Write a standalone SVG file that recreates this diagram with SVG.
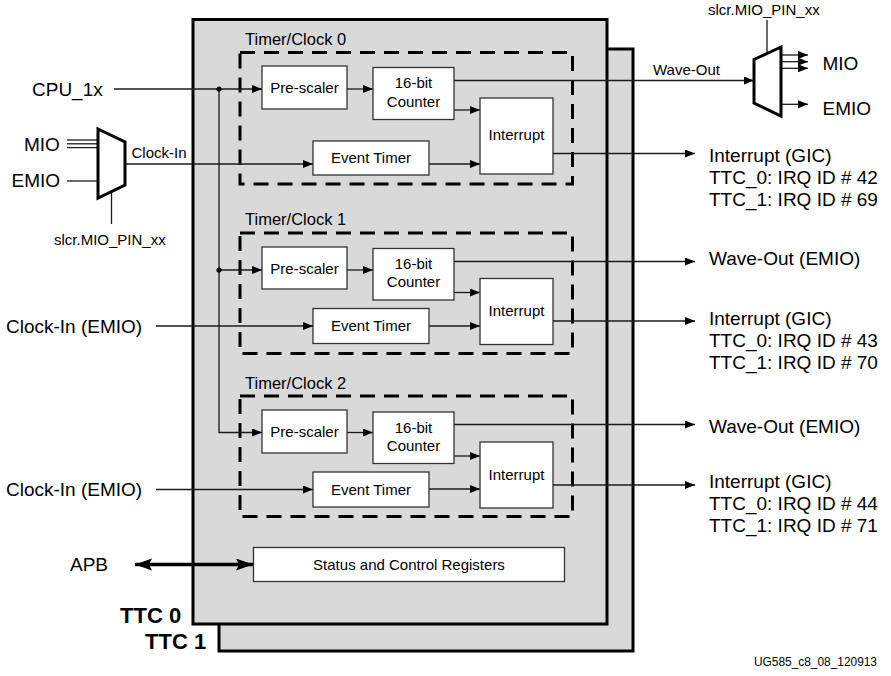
<svg xmlns="http://www.w3.org/2000/svg" width="891" height="676" viewBox="0 0 891 676">
<defs>
<style>
.bg{fill:#ffffff}
.ttc{fill:#d9d9d9;stroke:#000;stroke-width:3}
.dash{fill:none;stroke:#000;stroke-width:3;stroke-dasharray:15 9}
.box{fill:#fff;stroke:#333;stroke-width:1.3}
.ln{fill:none;stroke:#1a1a1a;stroke-width:1.3}
.arr{marker-end:url(#ah)}
.mux{fill:#fff;stroke:#000;stroke-width:3;stroke-linejoin:miter}
.t{font-family:"Liberation Sans",Arial,sans-serif;fill:#000}
.sm{font-size:15px}
.lg{font-size:19px}
.hd{font-size:16.5px}
.ctr{text-anchor:middle}
.bold{font-size:22px;font-weight:bold}
</style>
<marker id="ah" markerUnits="userSpaceOnUse" markerWidth="11" markerHeight="9" refX="10" refY="4" orient="auto">
<path d="M0,0 L10,4 L0,8 z" fill="#000"/>
</marker>
<marker id="bh" markerUnits="userSpaceOnUse" markerWidth="18" markerHeight="13" refX="17" refY="6" orient="auto-start-reverse">
<path d="M0,0 L17,6 L0,12 L3,6 z" fill="#000"/>
</marker>
</defs>
<rect class="bg" x="0" y="0" width="891" height="676"/>

<g id="ttc1">
<rect class="ttc" x="219" y="49" width="414" height="602"/>
</g>
<g id="ttc0">
<rect class="ttc" x="193" y="19.5" width="414" height="604.5"/>
</g>

<g id="timer0">
<text class="t hd" x="245" y="45">Timer/Clock 0</text>
<rect class="dash" x="240" y="52.5" width="332.5" height="131.5"/>
</g>
<g id="timer1">
<text class="t hd" x="245" y="225">Timer/Clock 1</text>
<rect class="dash" x="240" y="233" width="332.5" height="120.5"/>
</g>
<g id="timer2">
<text class="t hd" x="245" y="389">Timer/Clock 2</text>
<rect class="dash" x="240" y="396" width="332.5" height="120.5"/>
</g>

<g id="connectors">
<!-- CPU_1x distribution -->
<polyline class="ln arr" points="114,89 262,89"/>
<polyline class="ln arr" points="219,89 219,270 262,270"/>
<polyline class="ln arr" points="219,270 219,432.5 262,432.5"/>
<circle cx="219" cy="89" r="2.6" fill="#000"/>
<circle cx="219" cy="270" r="2.6" fill="#000"/>
<!-- TC0 -->
<line class="ln arr" x1="347" y1="89" x2="373" y2="89"/>
<line class="ln arr" x1="454" y1="110" x2="480" y2="110"/>
<line class="ln arr" x1="429" y1="164" x2="480" y2="164"/>
<line class="ln arr" x1="125" y1="164" x2="313" y2="164"/>
<line class="ln arr" x1="454" y1="80.5" x2="754" y2="80.5"/>
<line class="ln arr" x1="553" y1="153.5" x2="695" y2="153.5"/>
<!-- TC1 -->
<line class="ln arr" x1="347" y1="270" x2="373" y2="270"/>
<line class="ln arr" x1="454" y1="292.5" x2="480" y2="292.5"/>
<line class="ln arr" x1="429" y1="326" x2="480" y2="326"/>
<line class="ln arr" x1="156" y1="326" x2="313" y2="326"/>
<line class="ln arr" x1="454" y1="261.5" x2="695" y2="261.5"/>
<line class="ln arr" x1="553" y1="321" x2="695" y2="321"/>
<!-- TC2 -->
<line class="ln arr" x1="347" y1="432.5" x2="373" y2="432.5"/>
<line class="ln arr" x1="454" y1="456" x2="480" y2="456"/>
<line class="ln arr" x1="429" y1="489" x2="480" y2="489"/>
<line class="ln arr" x1="156" y1="489.5" x2="313" y2="489.5"/>
<line class="ln arr" x1="454" y1="424.5" x2="695" y2="424.5"/>
<line class="ln arr" x1="553" y1="485" x2="695" y2="485"/>
<!-- left mux inputs -->
<line class="ln" x1="67" y1="140" x2="98" y2="140"/>
<line class="ln" x1="67" y1="143.8" x2="98" y2="143.8"/>
<line class="ln" x1="67" y1="147.6" x2="98" y2="147.6"/>
<line class="ln" x1="67" y1="181" x2="98" y2="181"/>
<line class="ln" x1="111.5" y1="192" x2="111.5" y2="224"/>
<!-- right mux outputs -->
<line class="ln" x1="767" y1="20" x2="767" y2="53"/>
<line class="ln arr" x1="781" y1="55" x2="808" y2="55"/>
<line class="ln arr" x1="781" y1="61.7" x2="808" y2="61.7"/>
<line class="ln arr" x1="781" y1="68.3" x2="808" y2="68.3"/>
<line class="ln arr" x1="781" y1="104.3" x2="808" y2="104.3"/>
<!-- APB -->
<line x1="135" y1="564.5" x2="253" y2="564.5" stroke="#000" stroke-width="3.5" marker-start="url(#bh)" marker-end="url(#bh)"/>
</g>

<g id="mux-in">
<polygon class="mux" points="98,129 125,142 125,185 98,198"/>
</g>
<g id="mux-out">
<polygon class="mux" points="754,59.5 781,47 781,116 754,103"/>
</g>

<g id="pre0"><rect class="box" x="262" y="66" width="85" height="43"/><text class="t sm ctr" x="304.5" y="92.8">Pre-scaler</text></g>
<g id="cnt0"><rect class="box" x="373" y="67.5" width="81" height="52"/><text class="t sm ctr" x="413.5" y="88.3">16-bit</text><text class="t sm ctr" x="413.5" y="106.5">Counter</text></g>
<g id="int0"><rect class="box" x="480" y="98" width="73" height="76"/><text class="t sm ctr" x="516.5" y="140">Interrupt</text></g>
<g id="evt0"><rect class="box" x="313" y="141" width="116" height="34"/><text class="t sm ctr" x="371" y="163">Event Timer</text></g>

<g id="pre1"><rect class="box" x="262" y="247" width="85" height="42"/><text class="t sm ctr" x="304.5" y="273.5">Pre-scaler</text></g>
<g id="cnt1"><rect class="box" x="373" y="248.5" width="81" height="51.5"/><text class="t sm ctr" x="413.5" y="269.3">16-bit</text><text class="t sm ctr" x="413.5" y="287.3">Counter</text></g>
<g id="int1"><rect class="box" x="480" y="278.5" width="73" height="66"/><text class="t sm ctr" x="516.5" y="316">Interrupt</text></g>
<g id="evt1"><rect class="box" x="313" y="308.5" width="116" height="35"/><text class="t sm ctr" x="371" y="331">Event Timer</text></g>

<g id="pre2"><rect class="box" x="262" y="410" width="85" height="43"/><text class="t sm ctr" x="304.5" y="436.8">Pre-scaler</text></g>
<g id="cnt2"><rect class="box" x="373" y="412" width="81" height="51.5"/><text class="t sm ctr" x="413.5" y="432.7">16-bit</text><text class="t sm ctr" x="413.5" y="450.7">Counter</text></g>
<g id="int2"><rect class="box" x="480" y="442" width="73" height="66"/><text class="t sm ctr" x="516.5" y="480">Interrupt</text></g>
<g id="evt2"><rect class="box" x="313" y="472" width="116" height="35"/><text class="t sm ctr" x="371" y="494.5">Event Timer</text></g>

<g id="regs"><rect class="box" x="253.5" y="547.5" width="311" height="34"/><text class="t sm ctr" x="409" y="569.5">Status and Control Registers</text></g>

<g id="labels">
<text class="t lg" x="32" y="96">CPU_1x</text>
<text class="t lg" x="24" y="150.5">MIO</text>
<text class="t lg" x="11.5" y="187">EMIO</text>
<text class="t sm" x="131.5" y="157.5">Clock-In</text>
<text class="t sm" x="54" y="245">slcr.MIO_PIN_xx</text>
<text class="t lg" x="6" y="333">Clock-In (EMIO)</text>
<text class="t lg" x="6" y="496">Clock-In (EMIO)</text>
<text class="t lg" x="70" y="571">APB</text>
<text class="t bold" x="120" y="623">TTC 0</text>
<text class="t bold" x="145" y="649">TTC 1</text>
<text class="t sm" x="708" y="15">slcr.MIO_PIN_xx</text>
<text class="t sm" x="653" y="75">Wave-Out</text>
<text class="t lg" x="822.5" y="70">MIO</text>
<text class="t lg" x="822.5" y="114.5">EMIO</text>
<text class="t lg" x="709" y="162">Interrupt (GIC)</text>
<text class="t lg" x="709" y="184">TTC_0: IRQ ID # 42</text>
<text class="t lg" x="709" y="206">TTC_1: IRQ ID # 69</text>
<text class="t lg" x="709" y="264.5">Wave-Out (EMIO)</text>
<text class="t lg" x="709" y="325">Interrupt (GIC)</text>
<text class="t lg" x="709" y="347">TTC_0: IRQ ID # 43</text>
<text class="t lg" x="709" y="369">TTC_1: IRQ ID # 70</text>
<text class="t lg" x="709" y="432.5">Wave-Out (EMIO)</text>
<text class="t lg" x="709" y="488">Interrupt (GIC)</text>
<text class="t lg" x="709" y="510">TTC_0: IRQ ID # 44</text>
<text class="t lg" x="709" y="532">TTC_1: IRQ ID # 71</text>
<text class="t" font-size="11.9" x="754" y="666">UG585_c8_08_120913</text>
</g>
</svg>
